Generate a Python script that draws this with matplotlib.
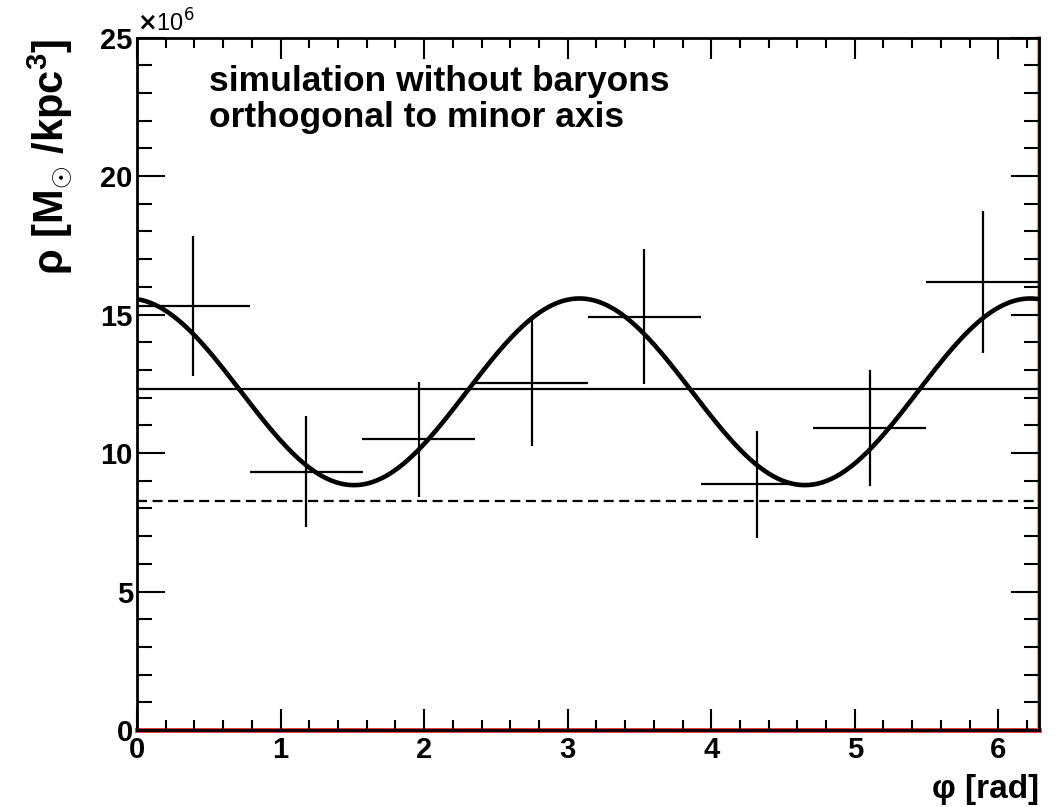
import numpy as np
import matplotlib
matplotlib.use("Agg")
import matplotlib.pyplot as plt
from matplotlib.ticker import MultipleLocator

plt.rcParams['font.family'] = ['Liberation Sans', 'DejaVu Sans']
plt.rcParams['mathtext.fontset'] = 'custom'
plt.rcParams['mathtext.rm'] = 'Liberation Sans:bold'
plt.rcParams['mathtext.bf'] = 'Liberation Sans:bold'
plt.rcParams['mathtext.it'] = 'Liberation Sans:bold'
plt.rcParams['mathtext.default'] = 'bf'

# density per phi bin (units of 1e6 Msun/kpc^3)
phi_centers = [0.393, 1.178, 1.963, 2.749, 3.534, 4.320, 5.105, 5.890]
rho = [15.31, 9.32, 10.49, 12.52, 14.92, 8.87, 10.89, 16.18]
rho_err = [2.52, 2.00, 2.06, 2.27, 2.43, 1.92, 2.09, 2.57]
bin_halfwidth = np.pi / 8

# fit rho = c0 + c1*cos(2*(phi - phi0))
fit_c0 = 12.21
fit_c1 = 3.37
fit_phi0 = -0.06

mean_level = 12.31
dashed_level = 8.26

fig = plt.figure(figsize=(10.59, 8.07), dpi=100)
ax = fig.add_axes([0.1294, 0.0954, 0.9811 - 0.1294, 0.9535 - 0.0954])

# fit curve
phi = np.linspace(0, 2 * np.pi, 400)
ax.plot(phi, fit_c0 + fit_c1 * np.cos(2 * (phi - fit_phi0)), color='black', lw=3.3, zorder=4)

# horizontal reference lines
ax.axhline(mean_level, color='black', lw=1.6, zorder=3)
ax.axhline(dashed_level, color='black', lw=1.6, ls=(0, (4.5, 2.5)), zorder=3)
ax.axhline(0, color='#e83030', lw=3.5, zorder=1, clip_on=False)
ax.axvline(2 * np.pi, color='#f0a0a0', lw=3, zorder=1, clip_on=False)

# data points with bin widths
ax.errorbar(phi_centers, rho, yerr=rho_err, xerr=bin_halfwidth, fmt='none',
            ecolor='black', elinewidth=1.6, capsize=0, zorder=5)

ax.set_xlim(0, 2 * np.pi)
ax.set_ylim(0, 25)
ax.xaxis.set_major_locator(MultipleLocator(1))
ax.xaxis.set_minor_locator(MultipleLocator(0.2))
ax.yaxis.set_major_locator(MultipleLocator(5))
ax.yaxis.set_minor_locator(MultipleLocator(1))

for s in ax.spines.values():
    s.set_linewidth(2.0)
    s.set_zorder(6)

ax.tick_params(axis='both', which='both', direction='in', top=True, right=True,
               width=1.5, labelsize=21)
ax.tick_params(axis='x', which='major', length=15, pad=4)
ax.tick_params(axis='x', which='minor', length=7.5)
ax.tick_params(axis='y', which='major', length=20, pad=3)
ax.tick_params(axis='y', which='minor', length=11)
for lbl in ax.get_xticklabels() + ax.get_yticklabels():
    lbl.set_fontweight('bold')

ax.text(0.0, 1.002, r'$\times$10$^{\mathrm{6}}$', transform=ax.transAxes, fontsize=17,
        fontweight='normal', ha='left', va='bottom',
        math_fontfamily='dejavusans')

ax.text(0.08, 0.96, 'simulation without baryons\northogonal to minor axis',
        transform=ax.transAxes, fontsize=25.5, fontweight='bold',
        ha='left', va='top', linespacing=1.12)

fig.text(0.981, 0.002, 'φ [rad]', fontsize=24, fontweight='bold', ha='right', va='bottom')
fig.text(0.047, 0.952, r'ρ [M$_{\odot}$ /kpc$^{3}$]', fontsize=30, fontweight='bold',
         rotation=90, ha='center', va='top')

fig.savefig('out.png', dpi=100)
